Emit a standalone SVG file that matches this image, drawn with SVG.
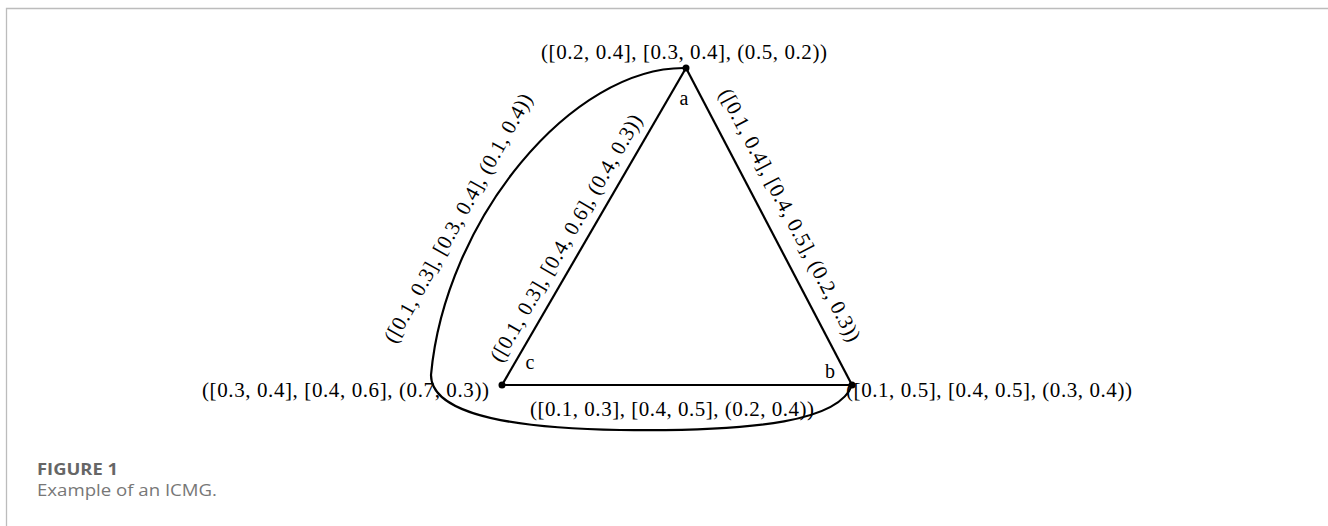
<svg xmlns="http://www.w3.org/2000/svg" width="1328" height="526" viewBox="0 0 1328 526">
<style>
.lbl{font-family:"Liberation Serif","Times New Roman",serif;font-size:21px;fill:#000}
.nl{font-family:"Liberation Serif","Times New Roman",serif;font-size:20px;fill:#000}
.edge{stroke:#000;stroke-width:2.2;fill:none}
.dot{fill:#000}
.cap1{font-family:"Open Sans","Noto Sans",sans-serif;font-size:16px;font-weight:bold;fill:#666}
.cap2{font-family:"Open Sans","Noto Sans",sans-serif;font-size:16px;fill:#777}
</style>
<rect width="1328" height="526" fill="#fff"/>
<path d="M6.5,526 V8.5 H1328" stroke="#bcbcbc" stroke-width="1.3" fill="none"/>
<g id="connectors">
  <g id="edge-ab">
    <line class="edge" x1="686" y1="68" x2="852" y2="385"/>
    <text class="lbl" transform="translate(790,215) rotate(62.4)" x="0" y="7" text-anchor="middle" textLength="282" lengthAdjust="spacing">([0.1, 0.4], [0.4, 0.5], (0.2, 0.3))</text>
  </g>
  <g id="edge-ca">
    <line class="edge" x1="502" y1="385" x2="686" y2="68"/>
    <text class="lbl" transform="translate(566,238) rotate(-59.9)" x="0" y="7" text-anchor="middle" textLength="282" lengthAdjust="spacing">([0.1, 0.3], [0.4, 0.6], (0.4, 0.3))</text>
  </g>
  <g id="edge-cb">
    <line class="edge" x1="502" y1="385" x2="852" y2="385"/>
    <text class="lbl" x="672" y="416" text-anchor="middle" textLength="284" lengthAdjust="spacing">([0.1, 0.3], [0.4, 0.5], (0.2, 0.4))</text>
  </g>
  <g id="edge-ab-loop">
    <path class="edge" stroke-width="2.6" d="M686,68 C572,66 445,220 431,375 C431,405 480,428 620,430 C760,432 840,420 852,385"/>
    <text class="lbl" transform="translate(458,218) rotate(-60.8)" x="0" y="7" text-anchor="middle" textLength="282" lengthAdjust="spacing">([0.1, 0.3], [0.3, 0.4], (0.1, 0.4))</text>
  </g>
</g>
<g id="node-a">
  <circle class="dot" cx="686" cy="68" r="3.5"/>
  <text class="lbl" x="684" y="59" text-anchor="middle" textLength="286" lengthAdjust="spacing">([0.2, 0.4], [0.3, 0.4], (0.5, 0.2))</text>
  <text class="nl" x="684" y="105" text-anchor="middle">a</text>
</g>
<g id="node-b">
  <circle class="dot" cx="852" cy="385" r="3.5"/>
  <text class="lbl" x="846" y="397" textLength="286" lengthAdjust="spacing">([0.1, 0.5], [0.4, 0.5], (0.3, 0.4))</text>
  <text class="nl" x="830" y="378" text-anchor="middle">b</text>
</g>
<g id="node-c">
  <circle class="dot" cx="502" cy="385" r="3.5"/>
  <text class="lbl" x="202" y="397" textLength="287" lengthAdjust="spacing">([0.3, 0.4], [0.4, 0.6], (0.7, 0.3))</text>
  <text class="nl" x="530" y="369" text-anchor="middle">c</text>
</g>
<g id="caption">
  <text class="cap1" x="37" y="475" textLength="81" lengthAdjust="spacingAndGlyphs">FIGURE 1</text>
  <text class="cap2" x="37" y="496" textLength="180" lengthAdjust="spacingAndGlyphs">Example of an ICMG.</text>
</g>
</svg>
